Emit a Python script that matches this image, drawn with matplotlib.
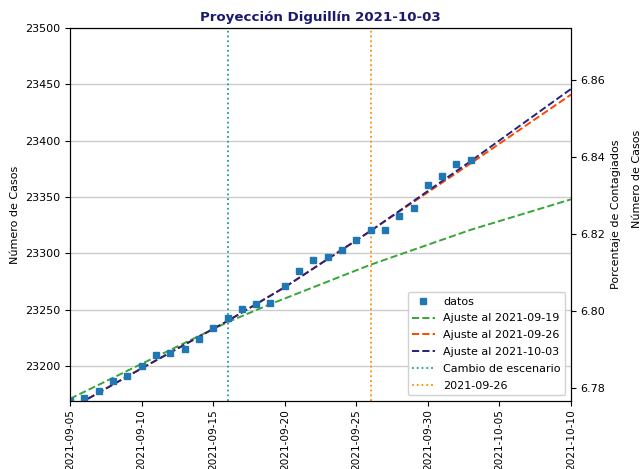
import numpy as np
import pandas as pd
import matplotlib
matplotlib.use("Agg")
import matplotlib.pyplot as plt
import matplotlib.dates as mdates

# datos observados
fechas = pd.date_range("2021-09-05", "2021-10-03", freq="D")
casos = [23169, 23172, 23178, 23187, 23191, 23200, 23210, 23212, 23215, 23224,
         23234, 23243, 23251, 23255, 23256, 23271, 23284, 23294, 23297, 23303,
         23312, 23321, 23321, 23333, 23340, 23361, 23369, 23379, 23383]

# curvas de ajuste
fechas_aj19 = pd.to_datetime(["2021-09-05", "2021-09-10", "2021-09-16", "2021-09-19",
                              "2021-09-26", "2021-10-03", "2021-10-10"])
aj19 = [23171, 23202, 23239, 23255, 23290, 23321, 23348]

fechas_aj = pd.to_datetime(["2021-09-05", "2021-09-10", "2021-09-16", "2021-09-20",
                            "2021-09-26", "2021-10-03", "2021-10-10"])
aj26 = [23162, 23198, 23240, 23270, 23320, 23380, 23441]
aj03 = [23162, 23198, 23240, 23270, 23320, 23382, 23446]

cambio = pd.Timestamp("2021-09-16")
corte = pd.Timestamp("2021-09-26")
poblacion = 341900

ticks_x = pd.date_range("2021-09-05", "2021-10-10", freq="5D")
y_lim = (23169, 23500)

plt.rcParams['font.size'] = 8

fig = plt.figure(figsize=(6.43, 4.69), dpi=100)
ax = fig.add_axes([0.109, 0.145, 0.779, 0.795])

ax.plot(fechas, casos, 's', color='tab:blue', markersize=4.5, label='datos', zorder=5)
ax.plot(fechas_aj19, aj19, '--', color='#37a537', lw=1.4, label='Ajuste al 2021-09-19')
ax.plot(fechas_aj, aj26, '--', color='orangered', lw=1.4, label='Ajuste al 2021-09-26')
ax.plot(fechas_aj, aj03, '--', color='#23237e', lw=1.4, label='Ajuste al 2021-10-03')
ax.axvline(cambio, ls=':', color='#1a9e9e', lw=1.3, label='Cambio de escenario')
ax.axvline(corte, ls=':', color='darkorange', lw=1.3, label='2021-09-26')

ax.set_xlim(ticks_x[0], ticks_x[-1])
ax.set_ylim(*y_lim)
ax.set_xticks(ticks_x)
ax.xaxis.set_major_formatter(mdates.DateFormatter('%Y-%m-%d'))
ax.tick_params(axis='x', labelsize=7.6, labelrotation=90, pad=2.5)
ax.set_yticks([23200, 23250, 23300, 23350, 23400, 23450, 23500])
ax.yaxis.grid(True, color='#cccccc', lw=1)
ax.set_axisbelow(True)
ax.set_ylabel('Número de Casos')
ax.set_title('Proyección Diguillín 2021-10-03', fontsize=9.6, fontweight='bold',
             color='midnightblue', pad=5)
ax.legend(loc='lower right', fontsize=8, framealpha=0.9, labelspacing=0.62)

ax2 = ax.twinx()
ax2.set_ylim(y_lim[0] / poblacion * 100, y_lim[1] / poblacion * 100)
ax2.set_yticks([6.78, 6.80, 6.82, 6.84, 6.86])
ax2.set_ylabel('Porcentaje de Contagiados')

fig.text(0.99, 0.618, 'Número de Casos', rotation=90, ha='center', va='center', fontsize=8)

fig.savefig('out.png', dpi=100)
